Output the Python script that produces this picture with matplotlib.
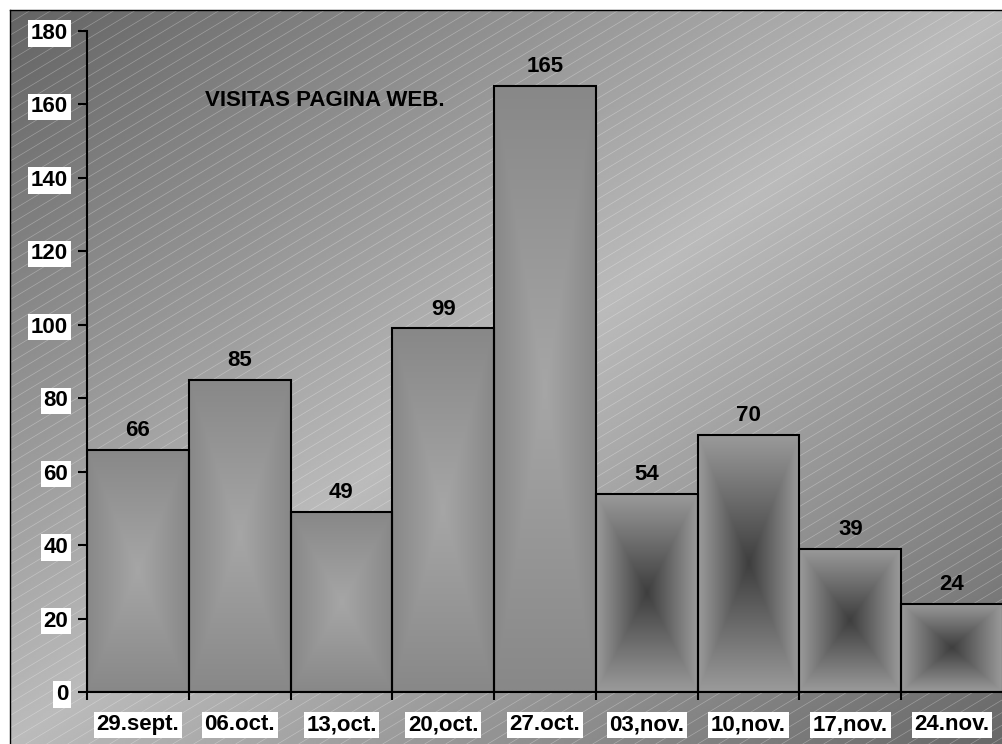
import numpy as np
import matplotlib
matplotlib.use("Agg")
import matplotlib.pyplot as plt
from matplotlib.colors import LinearSegmentedColormap

categories = ["29.sept.", "06.oct.", "13,oct.", "20,oct.", "27.oct.",
              "03,nov.", "10,nov.", "17,nov.", "24.nov."]
visits = [66, 85, 49, 99, 165, 54, 70, 39, 24]
y_ticks = [0, 20, 40, 60, 80, 100, 120, 140, 160, 180]
title_text = "VISITAS PAGINA WEB."

# style: bar gradient (center colour, edge colour)
bar_center = ["#a6a6a6"] * 5 + ["#3e3e3e"] * 4
bar_edge = ["#888888"] * 5 + ["#9a9a9a"] * 4

plt.rcParams['font.family'] = ['Liberation Sans', 'DejaVu Sans']
plt.rcParams['font.weight'] = 'bold'
FS = 16

W, H = 1002, 744
fig = plt.figure(figsize=(W / 100, H / 100), dpi=100)
fig.patch.set_facecolor("white")

# ---- background panel with diagonal gradient and hatch lines ----
bx0, by_top = 10, 10
bg = fig.add_axes([bx0 / W, 0, 1 - bx0 / W, 1 - by_top / H], zorder=0)
bw, bh = W - bx0, H - by_top
xx, yy = np.meshgrid(np.linspace(0, 1, 400), np.linspace(0, 1, 300))
t = (xx + yy) / 2.0
prof = 1 - np.abs(t - 0.5) * 2
dark = np.where(t < 0.5, 0x64, 0x68)
light = 0xbb
val = (dark + (light - dark) * prof) / 255.0
bg.imshow(val, cmap="gray", vmin=0, vmax=1, extent=(0, bw, bh, 0),
          aspect="auto", interpolation="bilinear")
slope = 0.6
spacing = 21
for c in np.arange(-spacing * 2, bw + bh / slope + spacing, spacing):
    xs = np.array([c - bh / slope, c])
    ys = np.array([bh, 0])
    bg.plot(xs, ys, color="white", alpha=0.3, lw=0.5, solid_capstyle="butt")
bg.set_xlim(0, bw)
bg.set_ylim(bh, 0)
bg.set_xticks([])
bg.set_yticks([])
for s in ["right", "bottom"]:
    bg.spines[s].set_visible(False)
bg.spines["top"].set_linewidth(1.0)
bg.spines["left"].set_linewidth(1.0)

# ---- main axes ----
left_px, right_px, bottom_px, top_px = 87, 1003, 692, 31
ax = fig.add_axes([left_px / W, (H - bottom_px) / H,
                   (right_px - left_px) / W, (bottom_px - top_px) / H], zorder=2)
ax.set_facecolor("none")
n = len(categories)
x = np.arange(n)

bars = ax.bar(x, visits, width=1.0, facecolor="none", edgecolor="black",
              linewidth=1.5, zorder=3)

gx, gy = np.meshgrid(np.linspace(0, 1, 101), np.linspace(0, 1, 101))
dist = np.maximum(np.abs(gx - 0.5), np.abs(gy - 0.5)) * 2
for i, b in enumerate(bars):
    cmap = LinearSegmentedColormap.from_list("g%d" % i, [bar_center[i], bar_edge[i]])
    im = ax.imshow(dist, cmap=cmap, vmin=0, vmax=1,
                   extent=(x[i] - 0.5, x[i] + 0.5, 0, visits[i]),
                   aspect="auto", interpolation="bilinear", zorder=2)
    im.set_clip_path(b)
ax.set_xlim(-0.5, n - 0.5)
ax.set_ylim(0, 180)

for i, v in enumerate(visits):
    ax.annotate(str(v), (x[i], v), xytext=(0, 10), textcoords="offset points",
                ha="center", va="baseline", fontsize=FS, fontweight="bold",
                color="black", zorder=5)

fig.text(205 / W, (H - 100) / H, title_text,
         fontsize=FS, fontweight="bold", ha="left", va="center", zorder=5)

for s in ["top", "right"]:
    ax.spines[s].set_visible(False)
ax.spines["left"].set_linewidth(1.5)
ax.spines["bottom"].set_linewidth(1.5)
ax.spines["left"].set_zorder(4)
ax.spines["bottom"].set_zorder(4)

ax.set_yticks(y_ticks)
ax.set_yticklabels([str(v) for v in y_ticks])
ax.tick_params(axis="y", direction="out", length=6.5, width=1.5, pad=7,
               labelsize=FS)
ax.set_xticks(np.arange(n + 1) - 0.5)
ax.set_xticklabels([])
ax.set_xticks(x, minor=True)
ax.set_xticklabels(categories, minor=True)
ax.tick_params(axis="x", which="major", direction="out", length=6, width=1.5)
ax.tick_params(axis="x", which="minor", length=0, pad=16, labelsize=FS)

for lbl in ax.get_yticklabels() + ax.get_xticklabels(minor=True):
    lbl.set_fontweight("bold")
    lbl.set_bbox(dict(facecolor="white", edgecolor="none", pad=2))

fig.savefig("out.png", dpi=100, facecolor="white")
